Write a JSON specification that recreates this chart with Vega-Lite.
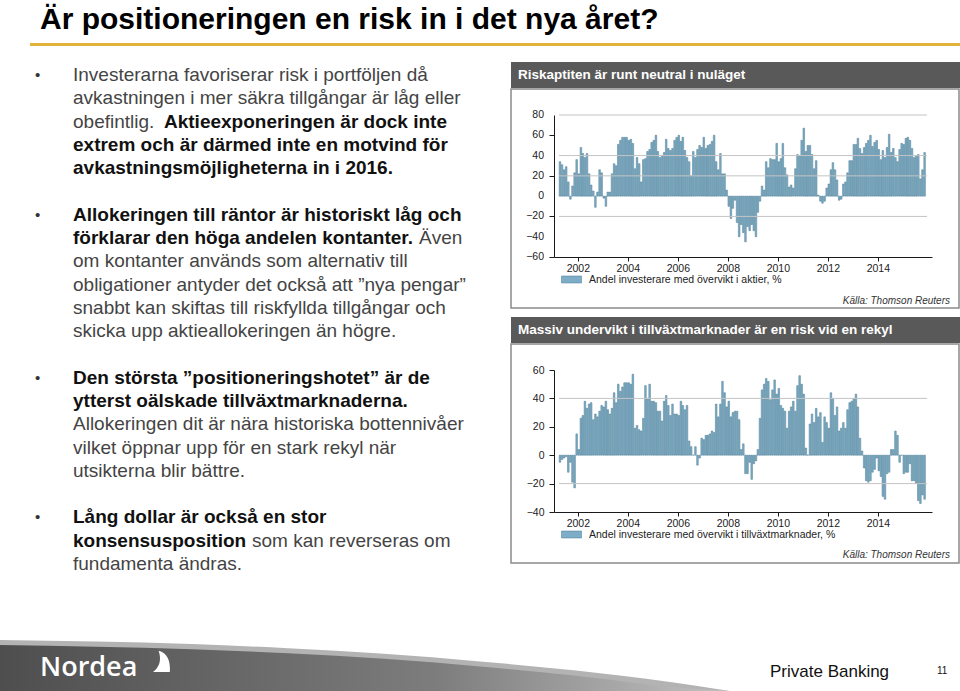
{
  "$schema": "https://vega.github.io/schema/vega-lite/v6.json",
  "padding": 0,
  "background": "white",
  "spacing": 0,
  "resolve": {"scale": {"color": "independent"}, "legend": {"color": "independent"}},
  "config": {
    "font": "Liberation Sans",
    "view": {"stroke": null},
    "axis": {"labelFont": "Liberation Sans", "titleFont": "Liberation Sans", "labelOverlap": false, "labelFlush": false},
    "legend": {"labelFont": "Liberation Sans"},
    "text": {"font": "Liberation Sans"}
  },
  "datasets": {
    "m": [
      {"d":"2001-04-15","a":34,"t":-5},{"d":"2001-05-15","a":31,"t":-3},{"d":"2001-06-15","a":26,"t":-2},{"d":"2001-07-15","a":29,"t":-1},{"d":"2001-08-15","a":14,"t":-12},{"d":"2001-09-15","a":-3,"t":-5},{"d":"2001-10-15","a":10,"t":-19},{"d":"2001-11-15","a":23,"t":-23},{"d":"2001-12-15","a":36,"t":15},
      {"d":"2002-01-15","a":22,"t":4},{"d":"2002-02-15","a":48,"t":26},{"d":"2002-03-15","a":42,"t":28},{"d":"2002-04-15","a":38,"t":38},{"d":"2002-05-15","a":42,"t":33},{"d":"2002-06-15","a":22,"t":36},{"d":"2002-07-15","a":11,"t":37},{"d":"2002-08-15","a":5,"t":25},{"d":"2002-09-15","a":-11,"t":29},{"d":"2002-10-15","a":4,"t":27},{"d":"2002-11-15","a":26,"t":31},{"d":"2002-12-15","a":23,"t":35},
      {"d":"2003-01-15","a":-2,"t":34},{"d":"2003-02-15","a":-10,"t":38},{"d":"2003-03-15","a":4,"t":32},{"d":"2003-04-15","a":4,"t":29},{"d":"2003-05-15","a":22,"t":33},{"d":"2003-06-15","a":32,"t":44},{"d":"2003-07-15","a":30,"t":37},{"d":"2003-08-15","a":51,"t":50},{"d":"2003-09-15","a":55,"t":45},{"d":"2003-10-15","a":58,"t":48},{"d":"2003-11-15","a":58,"t":51},{"d":"2003-12-15","a":58,"t":51},
      {"d":"2004-01-15","a":55,"t":51},{"d":"2004-02-15","a":56,"t":50},{"d":"2004-03-15","a":52,"t":57},{"d":"2004-04-15","a":27,"t":19},{"d":"2004-05-15","a":38,"t":21},{"d":"2004-06-15","a":32,"t":18},{"d":"2004-07-15","a":14,"t":17},{"d":"2004-08-15","a":36,"t":26},{"d":"2004-09-15","a":37,"t":49},{"d":"2004-10-15","a":44,"t":40},{"d":"2004-11-15","a":46,"t":50},{"d":"2004-12-15","a":53,"t":38},
      {"d":"2005-01-15","a":55,"t":38},{"d":"2005-02-15","a":60,"t":37},{"d":"2005-03-15","a":44,"t":31},{"d":"2005-04-15","a":38,"t":31},{"d":"2005-05-15","a":40,"t":24},{"d":"2005-06-15","a":43,"t":38},{"d":"2005-07-15","a":56,"t":42},{"d":"2005-08-15","a":47,"t":35},{"d":"2005-09-15","a":45,"t":28},{"d":"2005-10-15","a":47,"t":36},{"d":"2005-11-15","a":55,"t":29},{"d":"2005-12-15","a":58,"t":29},
      {"d":"2006-01-15","a":60,"t":28},{"d":"2006-02-15","a":54,"t":38},{"d":"2006-03-15","a":58,"t":35},{"d":"2006-04-15","a":45,"t":32},{"d":"2006-05-15","a":38,"t":35},{"d":"2006-06-15","a":34,"t":10},{"d":"2006-07-15","a":20,"t":6},{"d":"2006-08-15","a":44,"t":0},{"d":"2006-09-15","a":38,"t":6},{"d":"2006-10-15","a":46,"t":-7},{"d":"2006-11-15","a":50,"t":-2},{"d":"2006-12-15","a":48,"t":12},
      {"d":"2007-01-15","a":58,"t":11},{"d":"2007-02-15","a":47,"t":14},{"d":"2007-03-15","a":50,"t":14},{"d":"2007-04-15","a":51,"t":15},{"d":"2007-05-15","a":54,"t":17},{"d":"2007-06-15","a":60,"t":16},{"d":"2007-07-15","a":34,"t":36},{"d":"2007-08-15","a":26,"t":27},{"d":"2007-09-15","a":42,"t":36},{"d":"2007-10-15","a":22,"t":52},{"d":"2007-11-15","a":22,"t":44},{"d":"2007-12-15","a":6,"t":34},
      {"d":"2008-01-15","a":-10,"t":38},{"d":"2008-02-15","a":-22,"t":27},{"d":"2008-03-15","a":-12,"t":30},{"d":"2008-04-15","a":-4,"t":31},{"d":"2008-05-15","a":-26,"t":31},{"d":"2008-06-15","a":-40,"t":25},{"d":"2008-07-15","a":-28,"t":4},{"d":"2008-08-15","a":-36,"t":8},{"d":"2008-09-15","a":-45,"t":-13},{"d":"2008-10-15","a":-30,"t":-13},{"d":"2008-11-15","a":-34,"t":-5},{"d":"2008-12-15","a":-28,"t":-17},
      {"d":"2009-01-15","a":-34,"t":-6},{"d":"2009-02-15","a":-40,"t":-4},{"d":"2009-03-15","a":-16,"t":4},{"d":"2009-04-15","a":-5,"t":26},{"d":"2009-05-15","a":10,"t":46},{"d":"2009-06-15","a":6,"t":50},{"d":"2009-07-15","a":34,"t":54},{"d":"2009-08-15","a":28,"t":52},{"d":"2009-09-15","a":37,"t":39},{"d":"2009-10-15","a":36,"t":46},{"d":"2009-11-15","a":36,"t":53},{"d":"2009-12-15","a":52,"t":43},
      {"d":"2010-01-15","a":34,"t":47},{"d":"2010-02-15","a":37,"t":35},{"d":"2010-03-15","a":52,"t":33},{"d":"2010-04-15","a":28,"t":31},{"d":"2010-05-15","a":21,"t":19},{"d":"2010-06-15","a":9,"t":31},{"d":"2010-07-15","a":11,"t":34},{"d":"2010-08-15","a":8,"t":38},{"d":"2010-09-15","a":27,"t":31},{"d":"2010-10-15","a":41,"t":49},{"d":"2010-11-15","a":40,"t":56},{"d":"2010-12-15","a":55,"t":50},
      {"d":"2011-01-15","a":67,"t":43},{"d":"2011-02-15","a":44,"t":5},{"d":"2011-03-15","a":50,"t":0},{"d":"2011-04-15","a":50,"t":22},{"d":"2011-05-15","a":41,"t":29},{"d":"2011-06-15","a":27,"t":23},{"d":"2011-07-15","a":35,"t":33},{"d":"2011-08-15","a":1,"t":27},{"d":"2011-09-15","a":-5,"t":30},{"d":"2011-10-15","a":-7,"t":9},{"d":"2011-11-15","a":-5,"t":27},{"d":"2011-12-15","a":8,"t":23},
      {"d":"2012-01-15","a":12,"t":19},{"d":"2012-02-15","a":26,"t":44},{"d":"2012-03-15","a":33,"t":40},{"d":"2012-04-15","a":26,"t":28},{"d":"2012-05-15","a":16,"t":34},{"d":"2012-06-15","a":-4,"t":17},{"d":"2012-07-15","a":-3,"t":19},{"d":"2012-08-15","a":12,"t":23},{"d":"2012-09-15","a":14,"t":19},{"d":"2012-10-15","a":23,"t":32},{"d":"2012-11-15","a":35,"t":37},{"d":"2012-12-15","a":35,"t":38},
      {"d":"2013-01-15","a":51,"t":40},{"d":"2013-02-15","a":51,"t":43},{"d":"2013-03-15","a":57,"t":34},{"d":"2013-04-15","a":47,"t":12},{"d":"2013-05-15","a":42,"t":3},{"d":"2013-06-15","a":48,"t":-9},{"d":"2013-07-15","a":52,"t":-18},{"d":"2013-08-15","a":55,"t":-19},{"d":"2013-09-15","a":60,"t":-18},{"d":"2013-10-15","a":49,"t":-12},{"d":"2013-11-15","a":53,"t":-10},{"d":"2013-12-15","a":55,"t":-2},
      {"d":"2014-01-15","a":46,"t":-11},{"d":"2014-02-15","a":36,"t":-15},{"d":"2014-03-15","a":45,"t":-29},{"d":"2014-04-15","a":38,"t":-31},{"d":"2014-05-15","a":48,"t":-13},{"d":"2014-06-15","a":61,"t":-12},{"d":"2014-07-15","a":43,"t":4},{"d":"2014-08-15","a":47,"t":4},{"d":"2014-09-15","a":38,"t":17},{"d":"2014-10-15","a":34,"t":14},{"d":"2014-11-15","a":46,"t":-5},{"d":"2014-12-15","a":52,"t":0},
      {"d":"2015-01-15","a":51,"t":-13},{"d":"2015-02-15","a":57,"t":-12},{"d":"2015-03-15","a":58,"t":-12},{"d":"2015-04-15","a":55,"t":-6},{"d":"2015-05-15","a":47,"t":-18},{"d":"2015-06-15","a":38,"t":-18},{"d":"2015-07-15","a":40,"t":-20},{"d":"2015-08-15","a":41,"t":-32},{"d":"2015-09-15","a":17,"t":-34},{"d":"2015-10-15","a":26,"t":-28},{"d":"2015-11-15","a":43,"t":-31}
    ],
    "lines": [
      {"slot":0,"txt":"•","role":"bullet"},
      {"slot":6,"txt":"•","role":"bullet"},
      {"slot":13,"txt":"•","role":"bullet"},
      {"slot":19,"txt":"•","role":"bullet"},
      {"slot":0,"txt":"Investerarna favoriserar risk i portföljen då","role":"plain"},
      {"slot":1,"txt":"avkastningen i mer säkra tillgångar är låg eller","role":"plain"},
      {"slot":2,"txt":"obefintlig.","role":"plain"},
      {"slot":2,"txt":"Aktieexponeringen är dock inte","role":"emph1"},
      {"slot":3,"txt":"extrem och är därmed inte en motvind för","role":"emph"},
      {"slot":4,"txt":"avkastningsmöjligheterna in i 2016.","role":"emph"},
      {"slot":6,"txt":"Allokeringen till räntor är historiskt låg och","role":"emph"},
      {"slot":7,"txt":"förklarar den höga andelen kontanter.","role":"emph"},
      {"slot":7,"txt":"Även","role":"plain2"},
      {"slot":8,"txt":"om kontanter används som alternativ till","role":"plain"},
      {"slot":9,"txt":"obligationer antyder det också att ”nya pengar”","role":"plain"},
      {"slot":10,"txt":"snabbt kan skiftas till riskfyllda tillgångar och","role":"plain"},
      {"slot":11,"txt":"skicka upp aktieallokeringen än högre.","role":"plain"},
      {"slot":13,"txt":"Den största ”positioneringshotet” är de","role":"emph"},
      {"slot":14,"txt":"ytterst oälskade tillväxtmarknaderna.","role":"emph"},
      {"slot":15,"txt":"Allokeringen dit är nära historiska bottennivåer","role":"plain"},
      {"slot":16,"txt":"vilket öppnar upp för en stark rekyl när","role":"plain"},
      {"slot":17,"txt":"utsikterna blir bättre.","role":"plain"},
      {"slot":19,"txt":"Lång dollar är också en stor","role":"emph"},
      {"slot":20,"txt":"konsensusposition","role":"emph"},
      {"slot":20,"txt":"som kan reverseras om","role":"plain3"},
      {"slot":21,"txt":"fundamenta ändras.","role":"plain"}
    ],
    "footer": [
      {"u":0.0,"h":1.0,"h2":0.9},
      {"u":0.1,"h":0.97,"h2":0.87},
      {"u":0.2,"h":0.92,"h2":0.82},
      {"u":0.3,"h":0.84,"h2":0.74},
      {"u":0.4,"h":0.73,"h2":0.63},
      {"u":0.5,"h":0.58,"h2":0.48},
      {"u":0.6,"h":0.4,"h2":0.3},
      {"u":0.7,"h":0.17,"h2":0.08},
      {"u":0.76,"h":0.0,"h2":0.0}
    ]
  },
  "vconcat": [
    {
      "width": 960,
      "height": 62,
      "data": {"values": [{"title": "Är positioneringen en risk in i det nya året?"}]},
      "layer": [
        {
          "mark": {"type": "text", "align": "left", "baseline": "alphabetic", "fontSize": 30, "fontWeight": "bold", "color": "#000000"},
          "encoding": {"x": {"value": 40}, "y": {"value": 29}, "text": {"field": "title"}}
        },
        {
          "mark": {"type": "rule", "color": "#E2B23A", "strokeWidth": 3},
          "encoding": {"x": {"value": 30}, "x2": {"value": 960}, "y": {"value": 44.5}}
        }
      ]
    },
    {
      "hconcat": [
        {
          "width": 510,
          "height": 578,
          "data": {"name": "lines"},
          "encoding": {
            "y": {"field": "slot", "type": "quantitative", "scale": {"domain": [0, 21], "range": [13, 502]}, "axis": null},
            "text": {"field": "txt"}
          },
          "layer": [
            {
              "transform": [{"filter": "datum.role == 'bullet'"}],
              "mark": {"type": "text", "align": "left", "baseline": "middle", "fontSize": 15, "color": "#333333"},
              "encoding": {"x": {"value": 35}}
            },
            {
              "transform": [{"filter": "datum.role == 'plain'"}],
              "mark": {"type": "text", "align": "left", "baseline": "middle", "fontSize": 19, "color": "#444444"},
              "encoding": {"x": {"value": 73}}
            },
            {
              "transform": [{"filter": "datum.role == 'emph'"}],
              "mark": {"type": "text", "align": "left", "baseline": "middle", "fontSize": 19, "fontWeight": "bold", "color": "#111111"},
              "encoding": {"x": {"value": 73}}
            },
            {
              "transform": [{"filter": "datum.role == 'emph1'"}],
              "mark": {"type": "text", "align": "left", "baseline": "middle", "fontSize": 19, "fontWeight": "bold", "color": "#111111"},
              "encoding": {"x": {"value": 164}}
            },
            {
              "transform": [{"filter": "datum.role == 'plain2'"}],
              "mark": {"type": "text", "align": "left", "baseline": "middle", "fontSize": 19, "color": "#444444"},
              "encoding": {"x": {"value": 419}}
            },
            {
              "transform": [{"filter": "datum.role == 'plain3'"}],
              "mark": {"type": "text", "align": "left", "baseline": "middle", "fontSize": 19, "color": "#444444"},
              "encoding": {"x": {"value": 252}}
            }
          ]
        },
        {
          "spacing": 8,
          "resolve": {"scale": {"color": "independent"}, "legend": {"color": "independent"}},
          "vconcat": [
            {
              "spacing": 0,
              "vconcat": [
                {
                  "width": 450,
                  "height": 26,
                  "view": {"fill": "#595959", "stroke": null},
                  "data": {"values": [{"h": "Riskaptiten är runt neutral i nuläget"}]},
                  "mark": {"type": "text", "align": "left", "baseline": "middle", "color": "white", "fontWeight": "bold", "fontSize": 13.5},
                  "encoding": {"x": {"value": 7}, "y": {"value": 13}, "text": {"field": "h"}}
                },
                {
                  "width": 448,
                  "height": 219,
                  "view": {"stroke": "#8a8a8a", "strokeWidth": 1.5},
                  "layer": [
                    {
                      "data": {"name": "m"},
                      "mark": {"type": "bar", "width": 1.6, "stroke": "#4a7a93", "strokeWidth": 0.5},
                      "encoding": {
                        "x": {
                          "field": "d", "type": "temporal",
                          "scale": {"domain": [{"year": 2001, "month": 4, "date": 1}, {"year": 2015, "month": 12, "date": 20}], "range": [43, 421]},
                          "axis": {
                            "values": [{"year": 2002, "month": 1, "date": 1}, {"year": 2004, "month": 1, "date": 1}, {"year": 2006, "month": 1, "date": 1}, {"year": 2008, "month": 1, "date": 1}, {"year": 2010, "month": 1, "date": 1}, {"year": 2012, "month": 1, "date": 1}, {"year": 2014, "month": 1, "date": 1}],
                            "format": "%Y", "orient": "bottom", "offset": -51, "title": null, "grid": false,
                            "domainColor": "#1a1a1a", "tickColor": "#1a1a1a", "tickSize": 4,
                            "labelFontSize": 10.5, "labelColor": "#222222", "labelPadding": 2, "labelFlush": false, "labelOverlap": false
                          }
                        },
                        "y": {
                          "field": "a", "type": "quantitative",
                          "scale": {"domain": [-60, 80], "range": [168, 26], "nice": false},
                          "axis": {
                            "values": [-60, -40, -20, 0, 20, 40, 60, 80], "orient": "left", "offset": -43, "title": null, "grid": false,
                            "domainColor": "#1a1a1a", "tickColor": "#1a1a1a", "tickSize": 5, "labels": false
                          }
                        },
                        "y2": {"datum": 0},
                        "color": {
                          "datum": "Andel investerare med övervikt i aktier, %",
                          "scale": {"range": ["#7eaec7"]},
                          "legend": {
                            "title": null, "orient": "none", "legendX": 50, "legendY": 207,
                            "symbolType": "M-1,-0.35H1V0.35H-1Z", "symbolSize": 400,
                            "symbolStrokeColor": "#4a7a93", "symbolStrokeWidth": 0.5,
                            "labelFontSize": 10.5, "labelColor": "#222222", "labelOffset": 7, "padding": 0, "labelLimit": 400
                          }
                        }
                      }
                    },
                    {
                      "data": {"values": [{"g": 80}, {"g": 40}, {"g": 20}, {"g": -20}]},
                      "mark": {"type": "rule", "color": "#c4c4c4", "strokeWidth": 1},
                      "encoding": {
                        "y": {"field": "g", "type": "quantitative"},
                        "x": {"datum": {"year": 2001, "month": 4, "date": 1}, "type": "temporal"},
                        "x2": {"datum": {"year": 2015, "month": 12, "date": 20}}
                      }
                    },
                    {
                      "mark": {"type": "rule", "color": "#1a1a1a", "strokeWidth": 1.2},
                      "encoding": {
                        "y": {"datum": 0, "type": "quantitative"},
                        "x": {"datum": {"year": 2001, "month": 4, "date": 1}, "type": "temporal"},
                        "x2": {"datum": {"year": 2015, "month": 12, "date": 20}}
                      }
                    },
                    {
                      "data": {"values": [{"v": -60}, {"v": -40}, {"v": -20}, {"v": 0}, {"v": 20}, {"v": 40}, {"v": 60}, {"v": 80}]},
                      "mark": {"type": "text", "align": "right", "baseline": "middle", "fontSize": 10.5, "color": "#222222"},
                      "encoding": {
                        "y": {"field": "v", "type": "quantitative"},
                        "x": {"value": 33},
                        "text": {"field": "v", "type": "quantitative"}
                      }
                    },
                    {
                      "data": {"values": [{"s": "Källa: Thomson Reuters"}]},
                      "mark": {"type": "text", "align": "right", "baseline": "middle", "fontStyle": "italic", "fontSize": 10, "color": "#333333"},
                      "encoding": {"text": {"field": "s"}, "x": {"value": 439}, "y": {"value": 212}}
                    }
                  ]
                }
              ]
            },
            {
              "spacing": 0,
              "vconcat": [
                {
                  "width": 450,
                  "height": 26,
                  "view": {"fill": "#595959", "stroke": null},
                  "data": {"values": [{"h": "Massiv undervikt i tillväxtmarknader är en risk vid en rekyl"}]},
                  "mark": {"type": "text", "align": "left", "baseline": "middle", "color": "white", "fontWeight": "bold", "fontSize": 13.5},
                  "encoding": {"x": {"value": 7}, "y": {"value": 13}, "text": {"field": "h"}}
                },
                {
                  "width": 448,
                  "height": 219,
                  "view": {"stroke": "#8a8a8a", "strokeWidth": 1.5},
                  "layer": [
                    {
                      "data": {"name": "m"},
                      "mark": {"type": "bar", "width": 1.6, "stroke": "#4a7a93", "strokeWidth": 0.5},
                      "encoding": {
                        "x": {
                          "field": "d", "type": "temporal",
                          "scale": {"domain": [{"year": 2001, "month": 4, "date": 1}, {"year": 2015, "month": 12, "date": 20}], "range": [43, 421]},
                          "axis": {
                            "values": [{"year": 2002, "month": 1, "date": 1}, {"year": 2004, "month": 1, "date": 1}, {"year": 2006, "month": 1, "date": 1}, {"year": 2008, "month": 1, "date": 1}, {"year": 2010, "month": 1, "date": 1}, {"year": 2012, "month": 1, "date": 1}, {"year": 2014, "month": 1, "date": 1}],
                            "format": "%Y", "orient": "bottom", "offset": -51, "title": null, "grid": false,
                            "domainColor": "#1a1a1a", "tickColor": "#1a1a1a", "tickSize": 4,
                            "labelFontSize": 10.5, "labelColor": "#222222", "labelPadding": 2, "labelFlush": false, "labelOverlap": false
                          }
                        },
                        "y": {
                          "field": "t", "type": "quantitative",
                          "scale": {"domain": [-40, 60], "range": [168, 26], "nice": false},
                          "axis": {
                            "values": [-40, -20, 0, 20, 40, 60], "orient": "left", "offset": -43, "title": null, "grid": false,
                            "domainColor": "#1a1a1a", "tickColor": "#1a1a1a", "tickSize": 5, "labelPadding": 5,
                            "labelFontSize": 10.5, "labelColor": "#222222", "labelOverlap": false, "labelFlush": false
                          }
                        },
                        "y2": {"datum": 0},
                        "color": {
                          "datum": "Andel investerare med övervikt i tillväxtmarknader, %",
                          "scale": {"range": ["#7eaec7"]},
                          "legend": {
                            "title": null, "orient": "none", "legendX": 50, "legendY": 207,
                            "symbolType": "M-1,-0.35H1V0.35H-1Z", "symbolSize": 400,
                            "symbolStrokeColor": "#4a7a93", "symbolStrokeWidth": 0.5,
                            "labelFontSize": 10.5, "labelColor": "#222222", "labelOffset": 7, "padding": 0, "labelLimit": 400
                          }
                        }
                      }
                    },
                    {
                      "data": {"values": [{"g": 40}, {"g": -20}]},
                      "mark": {"type": "rule", "color": "#c4c4c4", "strokeWidth": 1},
                      "encoding": {
                        "y": {"field": "g", "type": "quantitative"},
                        "x": {"datum": {"year": 2001, "month": 4, "date": 1}, "type": "temporal"},
                        "x2": {"datum": {"year": 2015, "month": 12, "date": 20}}
                      }
                    },
                    {
                      "mark": {"type": "rule", "color": "#1a1a1a", "strokeWidth": 1.2},
                      "encoding": {
                        "y": {"datum": 0, "type": "quantitative"},
                        "x": {"datum": {"year": 2001, "month": 4, "date": 1}, "type": "temporal"},
                        "x2": {"datum": {"year": 2015, "month": 12, "date": 20}}
                      }
                    },
                    {
                      "data": {"values": [{"s": "Källa: Thomson Reuters"}]},
                      "mark": {"type": "text", "align": "right", "baseline": "middle", "fontStyle": "italic", "fontSize": 10, "color": "#333333"},
                      "encoding": {"text": {"field": "s"}, "x": {"value": 439}, "y": {"value": 211}}
                    }
                  ]
                }
              ]
            }
          ]
        }
      ],
      "spacing": 0,
      "resolve": {"scale": {"color": "independent"}, "legend": {"color": "independent"}}
    },
    {
      "width": 960,
      "height": 51,
      "layer": [
        {
          "data": {"name": "footer"},
          "mark": {"type": "area", "color": "#b3b3b3", "interpolate": "monotone"},
          "encoding": {
            "x": {"field": "u", "type": "quantitative", "scale": {"domain": [0, 1]}, "axis": null},
            "y": {"field": "h", "type": "quantitative", "scale": {"domain": [0, 1]}, "axis": null},
            "y2": {"datum": 0}
          }
        },
        {
          "data": {"name": "footer"},
          "mark": {
            "type": "area", "interpolate": "monotone",
            "color": {"gradient": "linear", "x1": 0, "y1": 0, "x2": 1, "y2": 0, "stops": [{"offset": 0, "color": "#4e4e4e"}, {"offset": 0.6, "color": "#7d7d7d"}, {"offset": 1, "color": "#c2c2c2"}]}
          },
          "encoding": {
            "x": {"field": "u", "type": "quantitative"},
            "y": {"field": "h2", "type": "quantitative"},
            "y2": {"datum": 0}
          }
        },
        {
          "data": {"values": [{"n": "Nordea"}]},
          "mark": {"type": "text", "align": "left", "baseline": "middle", "font": "Open Sans", "fontSize": 27, "fontWeight": 600, "color": "white"},
          "encoding": {"text": {"field": "n"}, "x": {"value": 40}, "y": {"value": 28}}
        },
        {
          "data": {"values": [{"n": "logo"}]},
          "mark": {"type": "point", "shape": "M-0.3,-1 Q0.8,-0.7 0.7,0.9 L-0.8,0.9 Q0.1,0.2 -0.3,-1 Z", "filled": true, "color": "white", "opacity": 1, "size": 500},
          "encoding": {"x": {"value": 162}, "y": {"value": 22}}
        },
        {
          "data": {"values": [{"n": "Private Banking"}]},
          "mark": {"type": "text", "align": "left", "baseline": "middle", "fontSize": 17, "color": "#111111"},
          "encoding": {"text": {"field": "n"}, "x": {"value": 770}, "y": {"value": 32}}
        },
        {
          "data": {"values": [{"n": "11"}]},
          "mark": {"type": "text", "align": "left", "baseline": "middle", "fontSize": 10, "color": "#111111"},
          "encoding": {"text": {"field": "n"}, "x": {"value": 937}, "y": {"value": 31}}
        }
      ]
    }
  ]
}
